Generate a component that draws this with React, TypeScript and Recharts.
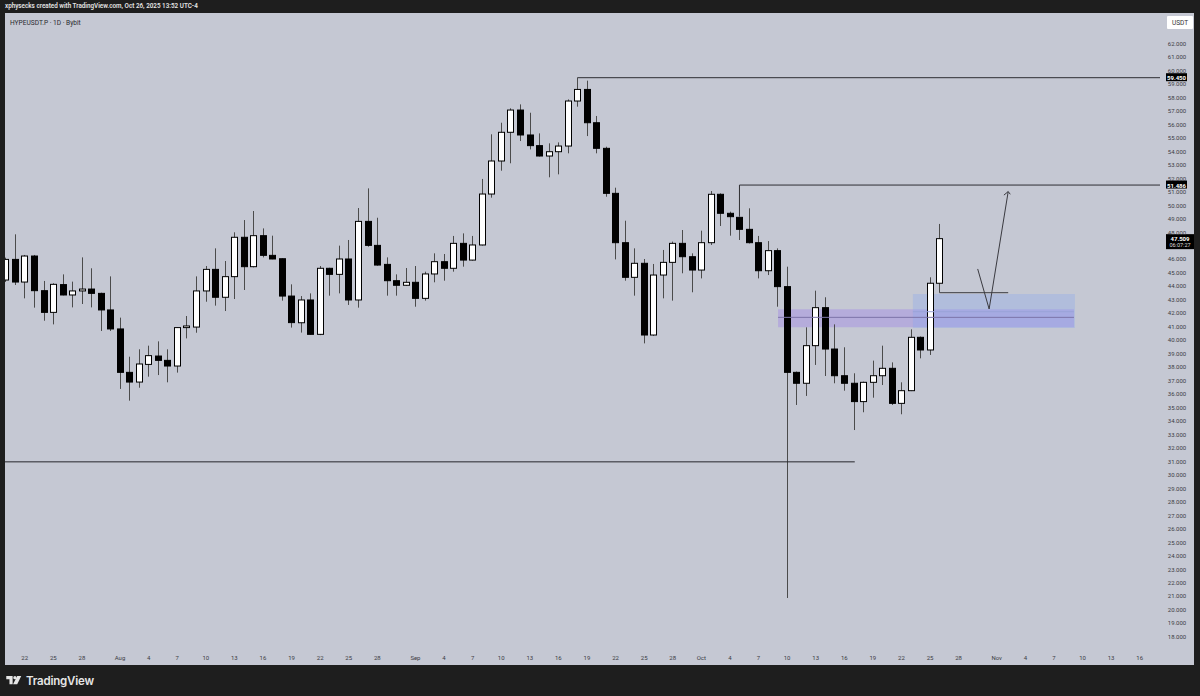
import React from "react";
import {
  ComposedChart,
  Bar,
  XAxis,
  YAxis,
  ReferenceLine,
  ReferenceArea,
  ReferenceDot,
} from "recharts";

// HYPEUSDT.P daily candles
const dates = [
  "2025-07-20", "2025-07-21", "2025-07-22", "2025-07-23", "2025-07-24", "2025-07-25", "2025-07-26",
  "2025-07-27", "2025-07-28", "2025-07-29", "2025-07-30", "2025-07-31", "2025-08-01", "2025-08-02",
  "2025-08-03", "2025-08-04", "2025-08-05", "2025-08-06", "2025-08-07", "2025-08-08", "2025-08-09",
  "2025-08-10", "2025-08-11", "2025-08-12", "2025-08-13", "2025-08-14", "2025-08-15", "2025-08-16",
  "2025-08-17", "2025-08-18", "2025-08-19", "2025-08-20", "2025-08-21", "2025-08-22", "2025-08-23",
  "2025-08-24", "2025-08-25", "2025-08-26", "2025-08-27", "2025-08-28", "2025-08-29", "2025-08-30",
  "2025-08-31", "2025-09-01", "2025-09-02", "2025-09-03", "2025-09-04", "2025-09-05", "2025-09-06",
  "2025-09-07", "2025-09-08", "2025-09-09", "2025-09-10", "2025-09-11", "2025-09-12", "2025-09-13",
  "2025-09-14", "2025-09-15", "2025-09-16", "2025-09-17", "2025-09-18", "2025-09-19", "2025-09-20",
  "2025-09-21", "2025-09-22", "2025-09-23", "2025-09-24", "2025-09-25", "2025-09-26", "2025-09-27",
  "2025-09-28", "2025-09-29", "2025-09-30", "2025-10-01", "2025-10-02", "2025-10-03", "2025-10-04",
  "2025-10-05", "2025-10-06", "2025-10-07", "2025-10-08", "2025-10-09", "2025-10-10", "2025-10-11",
  "2025-10-12", "2025-10-13", "2025-10-14", "2025-10-15", "2025-10-16", "2025-10-17", "2025-10-18",
  "2025-10-19", "2025-10-20", "2025-10-21", "2025-10-22", "2025-10-23", "2025-10-24", "2025-10-25",
  "2025-10-26",
];

const opens = [
  44.44, 45.97, 44.29, 46.22, 43.65, 42.04, 44.1, 43.33, 43.63, 43.77, 43.45, 42.22, 40.81, 37.59,
  36.87, 38.18, 38.8, 38.48, 38.06, 40.91, 40.95, 43.63, 45.23, 43.16, 44.69, 47.61, 45.43, 47.73,
  46.27, 46.02, 43.25, 41.27, 42.96, 40.41, 45.31, 44.86, 46.0, 42.96, 48.79, 47.01, 45.6, 44.39,
  44.05, 44.27, 43.08, 44.89, 45.8, 45.31, 47.16, 45.92, 47.04, 50.82, 53.27, 55.4, 57.05, 55.2,
  54.41, 53.64, 53.96, 54.38, 57.72, 58.58, 56.11, 54.21, 50.87, 47.21, 44.64, 45.68, 40.36, 44.81,
  45.75, 47.16, 46.17, 45.18, 47.21, 50.8, 49.39, 49.09, 48.2, 47.21, 45.13, 46.62, 43.95, 37.59,
  36.78, 39.57, 42.39, 39.32, 37.34, 36.78, 35.42, 36.85, 37.34, 37.89, 35.29, 36.23, 40.19, 39.25,
  44.2,
];

const highs = [
  46.1, 47.83, 46.3, 46.3, 44.37, 44.2, 44.86, 44.32, 46.12, 45.31, 43.5, 44.71, 41.65, 38.75,
  39.3, 39.57, 39.89, 39.3, 40.95, 41.77, 44.71, 45.48, 46.79, 45.85, 47.98, 48.89, 49.56, 48.27,
  47.73, 46.05, 44.12, 43.25, 43.45, 45.48, 45.35, 46.99, 47.41, 49.78, 51.24, 49.06, 46.12, 44.86,
  45.33, 45.48, 45.06, 46.42, 46.37, 47.71, 47.9, 47.71, 51.94, 55.25, 56.11, 57.18, 57.47, 56.85,
  55.32, 54.58, 54.65, 57.84, 59.45, 59.23, 56.61, 54.33, 51.29, 48.84, 46.79, 46.0, 45.63, 46.67,
  47.29, 48.15, 46.42, 48.1, 51.04, 50.87, 49.51, 49.15, 49.76, 47.71, 47.33, 46.79, 45.43, 37.65,
  40.93, 43.65, 43.16, 41.15, 39.45, 37.52, 36.9, 38.46, 39.57, 38.33, 36.85, 40.78, 40.25, 44.64,
  48.6,
];

const lows = [
  44.3, 44.07, 43.08, 42.39, 41.42, 41.15, 43.3, 42.41, 42.66, 42.41, 40.66, 40.66, 36.36, 35.49,
  36.45, 37.27, 37.39, 36.85, 37.57, 40.11, 40.53, 42.83, 42.54, 42.14, 43.03, 43.7, 45.38, 46.12,
  45.98, 42.91, 40.91, 40.54, 40.38, 40.35, 43.28, 43.45, 42.59, 42.39, 46.91, 45.5, 43.28, 43.28,
  44.0, 42.46, 42.91, 44.27, 44.39, 45.06, 45.43, 45.88, 47.0, 50.55, 52.55, 53.1, 54.75, 54.13,
  53.6, 52.06, 52.28, 53.84, 57.3, 55.12, 53.84, 50.62, 45.97, 44.39, 43.28, 39.74, 40.3, 43.08,
  42.91, 44.94, 43.53, 44.56, 47.04, 48.45, 47.73, 47.41, 47.15, 44.56, 44.81, 42.46, 20.85, 35.17,
  35.84, 38.14, 37.32, 36.78, 36.23, 33.31, 34.63, 35.71, 36.65, 35.17, 34.48, 36.2, 38.63, 38.88,
  43.5,
];

const closes = [
  45.97, 44.29, 46.22, 43.65, 42.04, 44.12, 43.33, 43.63, 43.77, 43.45, 42.22, 40.81, 37.59, 36.87,
  38.21, 38.83, 38.48, 38.06, 40.91, 41.03, 43.63, 45.23, 43.16, 44.69, 47.61, 45.43, 47.73, 46.27,
  46.0, 43.25, 41.28, 42.96, 40.41, 45.31, 44.86, 46.0, 42.96, 48.79, 47.01, 45.55, 44.39, 44.05,
  44.27, 43.08, 44.89, 45.8, 45.31, 47.16, 45.92, 47.04, 50.82, 53.27, 55.4, 57.05, 55.2, 54.41,
  53.64, 53.96, 54.38, 57.72, 58.58, 56.11, 54.21, 50.87, 47.21, 44.64, 45.68, 40.36, 44.81, 45.75,
  47.16, 46.17, 45.18, 47.21, 50.8, 49.39, 49.14, 48.2, 47.21, 45.13, 46.62, 43.95, 37.59, 36.78,
  39.57, 42.39, 39.32, 37.34, 36.78, 35.42, 36.85, 37.34, 37.89, 35.29, 36.23, 40.19, 39.25, 44.2,
  47.509,
];

// 47.000 sits under the last-price tag, so it isn't drawn
const priceTicks = [
  18, 19, 20, 21, 22, 23, 24, 25, 26, 27, 28, 29, 30, 31, 32, 33, 34, 35, 36, 37, 38, 39, 40,
  41, 42, 43, 44, 45, 46, 48, 49, 50, 51, 52, 53, 54, 55, 56, 57, 58, 59, 60, 61, 62,
];

const timeTickDates = [
  "2025-07-22", "2025-07-25", "2025-07-28", "2025-08-01", "2025-08-04", "2025-08-07", "2025-08-10",
  "2025-08-13", "2025-08-16", "2025-08-19", "2025-08-22", "2025-08-25", "2025-08-28", "2025-09-01",
  "2025-09-04", "2025-09-07", "2025-09-10", "2025-09-13", "2025-09-16", "2025-09-19", "2025-09-22",
  "2025-09-25", "2025-09-28", "2025-10-01", "2025-10-04", "2025-10-07", "2025-10-10", "2025-10-13",
  "2025-10-16", "2025-10-19", "2025-10-22", "2025-10-25", "2025-10-28", "2025-11-01", "2025-11-04",
  "2025-11-07", "2025-11-10", "2025-11-13", "2025-11-16",
];
const timeTickLabels = [
  "22", "25", "28", "Aug", "4", "7", "10", "13", "16", "19", "22", "25", "28", "Sep", "4", "7",
  "10", "13", "16", "19", "22", "25", "28", "Oct", "4", "7", "10", "13", "16", "19", "22", "25",
  "28", "Nov", "4", "7", "10", "13", "16",
];

// drawings (x in days from Aug 1, y in price)
const rayHigh = 59.45;
const rayMid = 51.486;
const lastPrice = 47.509;
const countdown = "06:07:27";
const lowLine = 30.95;
const purpleZone = { x1: 69.05, x2: 100.1, y1: 40.93, y2: 42.27 };
const blueZone = { x1: 83.2, x2: 100.2, y1: 40.88, y2: 43.4 };
const zoneLineA = { x1: 83.2, x2: 100.1, y: 42.09 };
const zoneLineB = { x1: 69.05, x2: 100.1, y: 41.67 };
const retestLine = { x1: 86, x2: 93.2, y: 43.5 };
const arrowPath = [
  { x: 90.0, y: 45.26 },
  { x: 91.2, y: 42.29 },
  { x: 93.2, y: 51.0 },
];
const arrowHead = [
  { x: 92.75, y: 50.74 },
  { x: 93.2, y: 51.0 },
  { x: 93.42, y: 50.8 },
];

const X_MIN = -12.07;
const X_MAX = 109.13;
const Y_MIN = 17.14;
const Y_MAX = 64.25;

const BASE = Date.UTC(2025, 7, 1);
function dayOf(s: string) {
  return Math.round((Date.parse(s + "T00:00:00Z") - BASE) / 86400000);
}

const data = dates.map((d, i) => ({
  d: dayOf(d),
  open: opens[i],
  high: highs[i],
  low: lows[i],
  close: closes[i],
  range: [lows[i], highs[i]],
}));

const timeTicks = timeTickDates.map(dayOf);
const tickLabelByDay: { [k: number]: string } = {};
timeTicks.forEach((t, i) => (tickLabelByDay[t] = timeTickLabels[i]));

const AXIS_FONT = "Roboto, 'Liberation Sans', sans-serif";

function Candle(props: any) {
  const { x, y, width, height, payload } = props;
  if (!payload || x == null) return null;
  const top = height < 0 ? y + height : y;
  const h = Math.abs(height);
  const k = h / (payload.high - payload.low);
  const yo = top + (payload.high - payload.open) * k;
  const yc = top + (payload.high - payload.close) * k;
  const bodyTop = Math.min(yo, yc);
  const bodyH = Math.max(1, Math.abs(yo - yc));
  const cx = Math.round(x + width / 2) + 0.5;
  const up = payload.close >= payload.open;
  return (
    <g>
      <line x1={cx} x2={cx} y1={top} y2={top + h} stroke="#4b4b4b" strokeWidth={1} />
      <rect
        x={cx - 3}
        y={bodyTop}
        width={6}
        height={bodyH}
        fill={up ? "#ffffff" : "#000000"}
        stroke="#000000"
        strokeWidth={1}
      />
    </g>
  );
}

function PriceTick(props: any) {
  const { y, payload } = props;
  return (
    <text
      x={1172}
      y={y}
      textAnchor="middle"
      dominantBaseline="central"
      fontSize={6}
      fontFamily={AXIS_FONT}
      fill="#3c3c44"
    >
      {Number(payload.value).toFixed(3)}
    </text>
  );
}

function TimeTick(props: any) {
  const { x, payload } = props;
  return (
    <text
      x={x}
      y={644}
      textAnchor="middle"
      dominantBaseline="central"
      fontSize={6}
      fontFamily={AXIS_FONT}
      fill="#3c3c44"
    >
      {tickLabelByDay[payload.value] ?? ""}
    </text>
  );
}

function tag(text: string, sub?: string) {
  return (p: any) => {
    const cx = p.cx;
    const cy = p.cy;
    const h = sub ? 15 : 8;
    return (
      <g>
        <rect x={cx + 6} y={cy - 4.5} width={sub ? 28 : 21} height={h} fill="#000" />
        <text
          x={cx + 6 + (sub ? 14 : 10.5)}
          y={cy}
          textAnchor="middle"
          dominantBaseline="central"
          fontSize={6}
          fontWeight={700}
          fontFamily={AXIS_FONT}
          fill="#fff"
        >
          {text}
        </text>
        {sub ? (
          <text
            x={cx + 20}
            y={cy + 6.5}
            textAnchor="middle"
            dominantBaseline="central"
            fontSize={5.5}
            fontFamily={AXIS_FONT}
            fill="#ddd"
          >
            {sub}
          </text>
        ) : null}
      </g>
    );
  };
}

function TvLogo() {
  return (
    <div style={{ position: "absolute", left: 6, top: 674, display: "flex", alignItems: "center" }}>
      <svg width={16} height={10} viewBox="0 0 17 11">
        <path d="M0 0 H7 V9 H3.5 V3.5 H0 Z" fill="#e6e6e6" />
        <circle cx={9.5} cy={1.8} r={1.8} fill="#e6e6e6" />
        <path d="M12 0 H16.5 L12 9 H7.5 Z" fill="#e6e6e6" />
      </svg>
      <span
        style={{
          marginLeft: 4,
          fontFamily: "Inter, 'Open Sans', sans-serif",
          fontWeight: 600,
          fontSize: 11.5,
          color: "#e6e6e6",
          letterSpacing: -0.2,
        }}
      >
        TradingView
      </span>
    </div>
  );
}

export default function App() {
  return (
    <div
      style={{
        position: "absolute",
        left: 0,
        top: 0,
        width: 1200,
        height: 696,
        background: "#1e1e1e",
        overflow: "hidden",
        fontFamily: AXIS_FONT,
      }}
    >
      <div
        style={{
          position: "absolute",
          left: 5,
          top: 2,
          fontSize: 6.3,
          fontWeight: 600,
          color: "#e4e4e4",
          whiteSpace: "nowrap",
        }}
      >
        xphysecks created with TradingView.com, Oct 26, 2025 13:52 UTC-4
      </div>
      <div
        style={{
          position: "absolute",
          left: 5,
          top: 13,
          width: 1189,
          height: 652,
          background: "#c5c8d3",
        }}
      >
        <ComposedChart
          width={1189}
          height={652}
          data={data}
          margin={{ top: 0, right: 0, bottom: 0, left: 0 }}
        >
          <XAxis
            dataKey="d"
            type="number"
            domain={[X_MIN, X_MAX]}
            allowDataOverflow
            ticks={timeTicks}
            height={17}
            axisLine={false}
            tickLine={false}
            tick={<TimeTick />}
            interval={0}
          />
          <YAxis
            orientation="right"
            type="number"
            domain={[Y_MIN, Y_MAX]}
            allowDataOverflow
            ticks={priceTicks}
            width={34}
            axisLine={false}
            tickLine={false}
            tick={<PriceTick />}
            interval={0}
          />
          <ReferenceArea
            x1={purpleZone.x1}
            x2={purpleZone.x2}
            y1={purpleZone.y1}
            y2={purpleZone.y2}
            fill="#9a7de8"
            fillOpacity={0.38}
            stroke="none"
          />
          <ReferenceArea
            x1={blueZone.x1}
            x2={blueZone.x2}
            y1={blueZone.y1}
            y2={blueZone.y2}
            fill="#86a6f2"
            fillOpacity={0.3}
            stroke="none"
          />
          <ReferenceLine
            segment={[{ x: zoneLineA.x1, y: zoneLineA.y }, { x: zoneLineA.x2, y: zoneLineA.y }]}
            stroke="#9aa3d8"
            strokeWidth={1}
          />
          <ReferenceLine
            segment={[{ x: zoneLineB.x1, y: zoneLineB.y }, { x: zoneLineB.x2, y: zoneLineB.y }]}
            stroke="#7c74a8"
            strokeWidth={1}
          />
          <ReferenceLine
            segment={[{ x: dayOf("2025-09-18"), y: rayHigh }, { x: X_MAX, y: rayHigh }]}
            stroke="#2e2e33"
            strokeWidth={1}
          />
          <ReferenceLine
            segment={[{ x: dayOf("2025-10-05"), y: rayMid }, { x: X_MAX, y: rayMid }]}
            stroke="#2e2e33"
            strokeWidth={1}
          />
          <ReferenceLine
            segment={[{ x: dayOf("2025-10-05"), y: rayMid }, { x: dayOf("2025-10-05"), y: 49.15 }]}
            stroke="#2e2e33"
            strokeWidth={1}
          />
          <ReferenceLine
            segment={[{ x: X_MIN, y: lowLine }, { x: 77.1, y: lowLine }]}
            stroke="#26262b"
            strokeWidth={1}
          />
          <ReferenceLine
            segment={[{ x: retestLine.x1, y: retestLine.y }, { x: retestLine.x2, y: retestLine.y }]}
            stroke="#3a3a40"
            strokeWidth={1}
          />
          {arrowPath.slice(1).map((p, i) => (
            <ReferenceLine
              key={"a" + i}
              segment={[arrowPath[i], p]}
              stroke="#3a3a40"
              strokeWidth={1}
            />
          ))}
          {arrowHead.slice(1).map((p, i) => (
            <ReferenceLine
              key={"h" + i}
              segment={[arrowHead[i], p]}
              stroke="#3a3a40"
              strokeWidth={1}
            />
          ))}
          <Bar dataKey="range" barSize={7} shape={<Candle />} isAnimationActive={false} />
          <ReferenceDot x={X_MAX} y={rayHigh} r={0} shape={tag("59.450")} ifOverflow="visible" />
          <ReferenceDot x={X_MAX} y={rayMid} r={0} shape={tag("51.486")} ifOverflow="visible" />
          <ReferenceDot
            x={X_MAX}
            y={lastPrice}
            r={0}
            shape={tag("47.509", countdown)}
            ifOverflow="visible"
          />
        </ComposedChart>
        <div
          style={{
            position: "absolute",
            left: 5,
            top: 6,
            fontSize: 6.6,
            color: "#2a2a30",
            whiteSpace: "nowrap",
          }}
        >
          HYPEUSDT.P · 1D · Bybit
        </div>
        <div
          style={{
            position: "absolute",
            left: 1162,
            top: 3,
            width: 26,
            height: 13,
            background: "#ffffff",
            borderRadius: 1,
            fontSize: 6.5,
            color: "#333",
            display: "flex",
            alignItems: "center",
            justifyContent: "center",
          }}
        >
          USDT
        </div>
      </div>
      <TvLogo />
    </div>
  );
}
